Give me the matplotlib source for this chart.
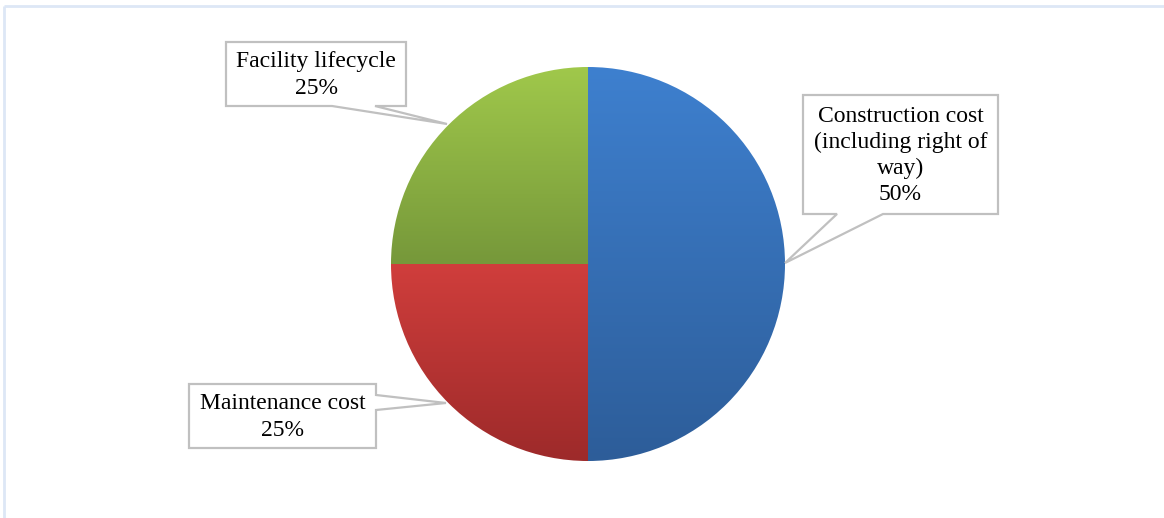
import numpy as np
import matplotlib
matplotlib.use('Agg')
import matplotlib.pyplot as plt
from matplotlib.colors import to_rgb
from matplotlib.patches import Polygon

plt.rcParams['font.family'] = ['Liberation Serif', 'DejaVu Serif']

# data
labels = ['Construction cost\n(including right of\nway)', 'Maintenance cost', 'Facility lifecycle']
values = [50, 25, 25]
top_colors = ['#3e80cf', '#d03e3c', '#a0c84b']
bottom_colors = ['#2d5d99', '#9d2a2a', '#76983a']

W, H = 1164, 518
fig = plt.figure(figsize=(W / 100, H / 100), dpi=100)
ax = fig.add_axes([0, 0, 1, 1])


def py(y):
    # pixel row (from top) -> data y
    return H - y


# outer frame (only top and left edges show)
ax.plot([4, W + 5], [py(6), py(6)], color='#dde7f6', lw=2, solid_capstyle='butt')
ax.plot([4, 4], [py(6), -5], color='#dde7f6', lw=2, solid_capstyle='butt')

cx, cy, r = 588, py(264), 197
wedges, _ = ax.pie(values, startangle=90, counterclock=False,
                   center=(cx, cy), radius=r, frame=True)
ax.set_xlim(0, W)
ax.set_ylim(0, H)
ax.set_aspect('equal')
ax.axis('off')

for w, c1, c2 in zip(wedges, top_colors, bottom_colors):
    ext = w.get_path().get_extents()
    t = np.linspace(0, 1, 256)[:, None, None]
    img = (1 - t) * np.array(to_rgb(c1)) + t * np.array(to_rgb(c2))
    im = ax.imshow(img, extent=(ext.x0, ext.x1, ext.y0, ext.y1),
                   origin='upper', aspect='auto', zorder=2)
    im.set_clip_path(w)
    w.set_facecolor('none')
    w.set_edgecolor('none')

# callout boxes with their tails (pixel coords, from top-left)
boxes = [
    dict(box=(803, 95, 998, 214), poly=[(803, 95), (998, 95), (998, 214), (883, 214),
                                        (785, 263), (837, 214), (803, 214)]),
    dict(box=(189, 384, 376, 448), poly=[(189, 384), (376, 384), (376, 395), (446, 403),
                                         (376, 410), (376, 448), (189, 448)]),
    dict(box=(226, 42, 406, 106), poly=[(226, 42), (406, 42), (406, 106), (375, 106),
                                        (447, 124), (332, 106), (226, 106)]),
]

for lab, v, b in zip(labels, values, boxes):
    pts = [(x, py(y)) for x, y in b['poly']]
    ax.add_patch(Polygon(pts, closed=True, facecolor='white', edgecolor='#c0c0c0',
                         lw=1.6, zorder=4))
    l, t, rr, bt = b['box']
    ax.text((l + rr) / 2, py((t + bt) / 2 + 1), f'{lab}\n{v}%', ha='center', va='center',
            fontsize=17, color='black', linespacing=1.32, zorder=5)

fig.savefig('out.png', dpi=100)
